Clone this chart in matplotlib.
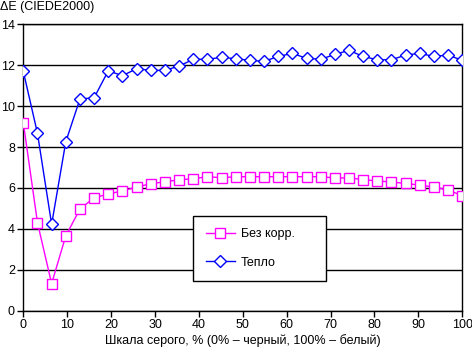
import matplotlib
matplotlib.use('Agg')
import matplotlib.pyplot as plt
import numpy as np

plt.rcParams['font.family'] = ['Liberation Sans', 'DejaVu Sans']

# grey level, % (32 steps)
gray = np.linspace(0, 100, 32)

bez_korr = [9.19, 4.30, 1.32, 3.66, 4.97, 5.52, 5.70, 5.86, 6.04, 6.21, 6.30,
            6.40, 6.45, 6.55, 6.50, 6.55, 6.55, 6.55, 6.55, 6.55, 6.55, 6.55,
            6.49, 6.49, 6.41, 6.34, 6.29, 6.22, 6.14, 6.04, 5.90, 5.62]
teplo = [11.70, 8.67, 4.22, 8.26, 10.35, 10.41, 11.73, 11.49, 11.83, 11.75,
         11.75, 11.96, 12.29, 12.29, 12.39, 12.32, 12.24, 12.19, 12.43, 12.58,
         12.34, 12.29, 12.53, 12.73, 12.43, 12.27, 12.27, 12.50, 12.58, 12.43,
         12.50, 12.24]

fig = plt.figure(figsize=(4.72, 3.53), dpi=100)
ax = fig.add_axes([0.0494, 0.120, 0.930, 0.811])

ax.plot(gray, bez_korr, color='#ff00ff', lw=1, marker='s', ms=7,
        mfc='white', mec='#ff00ff', mew=1, label='Без корр.', zorder=3)
ax.plot(gray, teplo, color='#0000ff', lw=1, marker='D', ms=6,
        mfc='white', mec='#0000ff', mew=1, label='Тепло', zorder=3)

ax.set_xlim(0, 100)
ax.set_ylim(0, 14)
ax.set_xticks(np.arange(0, 101, 10))
ax.set_yticks(np.arange(0, 15, 2))
ax.yaxis.grid(True, color='black', lw=1)
ax.set_axisbelow(True)
for s in ax.spines.values():
    s.set_linewidth(1)
ax.tick_params(labelsize=9, length=4, width=1, direction='out', pad=2)

ax.set_xlabel('Шкала серого, % (0% – черный, 100% – белый)', fontsize=9, labelpad=2)
fig.text(0.0, 0.998, 'ΔE (CIEDE2000)', fontsize=9, va='top', ha='left')

leg = ax.legend(loc='lower left', bbox_to_anchor=(0.3875, 0.103, 0.302, 0.223),
                mode='expand', borderaxespad=0, fancybox=False, framealpha=1,
                edgecolor='black', fontsize=9, handlelength=2.3,
                handletextpad=0.5, borderpad=1.0, labelspacing=1.3)
leg.get_frame().set_linewidth(1)

fig.savefig('out.png', dpi=100)
